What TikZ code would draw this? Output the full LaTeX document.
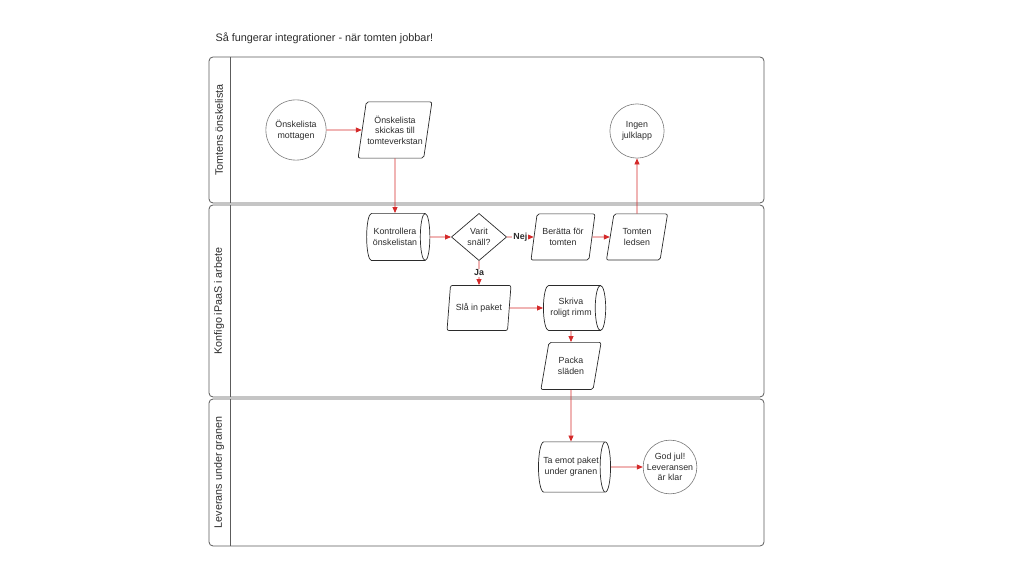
\documentclass[tikz,border=0pt]{standalone}
\usepackage{fontspec}
\setmainfont{Liberation Sans}
\usetikzlibrary{arrows.meta,shapes.geometric,positioning}
\definecolor{xmasred}{HTML}{D42A2A}
\definecolor{lanegray}{HTML}{5C5C5C}
\definecolor{inkgray}{HTML}{2B2B2B}
\definecolor{ringgray}{HTML}{7A7A7A}

\begin{document}
\begin{tikzpicture}[x=1.4cm, y=1.4cm,
  lane/.style={draw=lanegray, line width=0.8pt, rounded corners=4pt},
  lanelabel/.style={rotate=90, font=\fontsize{10.7}{12}\selectfont, text=inkgray},
  event/.style={circle, draw=ringgray, line width=0.6pt, minimum size=56pt,
                inner sep=0pt, align=center, text=inkgray,
                font=\fontsize{8.8}{10.6}\selectfont},
  io/.style={trapezium, trapezium left angle=75, trapezium right angle=105,
             trapezium stretches=true, draw=inkgray, line width=0.7pt,
             rounded corners=2pt, minimum width=64pt, minimum height=46pt,
             inner sep=1pt, align=center, text=inkgray,
             font=\fontsize{8.8}{10.6}\selectfont},
  store/.style={cylinder, aspect=0.5, draw=inkgray, line width=0.7pt,
                minimum height=63pt, minimum width=47pt, inner sep=1pt,
                align=center, text=inkgray, font=\fontsize{8.8}{10.6}\selectfont},
  check/.style={diamond, draw=inkgray, line width=0.7pt, aspect=1.15,
                minimum width=55pt, minimum height=47pt, inner sep=0pt,
                align=center, text=inkgray, font=\fontsize{8.8}{10.6}\selectfont},
  flow/.style={-{Triangle[length=6pt,width=5pt]}, draw=xmasred, line width=0.8pt},
  choice/.style={fill=white, inner sep=1pt, text=inkgray,
                 font=\bfseries\fontsize{8.8}{10.6}\selectfont},
]
  \useasboundingbox (0,0) rectangle (25.6,14.4);

  % Title -------------------------------------------------------------------
  \node[anchor=west, text=inkgray, font=\fontsize{10.8}{12}\selectfont] (title)
    at (5.3,13.45) {Så fungerar integrationer - när tomten jobbar!};

  % Swimlanes ---------------------------------------------------------------
  \draw[lane] (5.225,9.325) rectangle (19.1,12.975);
  \draw[lane] (5.75,9.325) -- (5.75,12.975);
  \node[lanelabel] (lanewish) at (5.475,11.15) {Tomtens önskelista};

  \draw[lane] (5.225,4.475) rectangle (19.1,9.275);
  \draw[lane] (5.75,4.475) -- (5.75,9.275);
  \node[lanelabel] (laneipaas) at (5.475,6.875) {Konfigo iPaaS i arbete};

  \draw[lane] (5.225,0.75) rectangle (19.1,4.425);
  \draw[lane] (5.75,0.75) -- (5.75,4.425);
  \node[lanelabel] (lanetree) at (5.475,2.5875) {Leverans under granen};

  % Tomtens önskelista ------------------------------------------------------
  \node[event, minimum size=60pt] (wish) at (7.4,11.15) {Önskelista\\mottagen};
  \node[io, minimum width=74pt, minimum height=56pt] (send) at (9.875,11.15)
    {Önskelista\\skickas till\\tomteverkstan};
  \node[event, minimum size=54pt] (nogift) at (15.925,11.125) {Ingen\\julklapp};

  % Konfigo iPaaS i arbete --------------------------------------------------
  \node[store] (checklist) at (9.875,8.475) {Kontrollera\\önskelistan};
  \node[check] (nice) at (11.975,8.475) {Varit\\snäll?};
  \node[io] (tell) at (14.075,8.475) {Berätta för\\tomten};
  \node[io, minimum width=61pt] (sad) at (15.925,8.475) {Tomten\\ledsen};
  \node[io, minimum height=45pt] (wrap) at (11.975,6.7) {Slå in paket};
  \node[store, minimum width=45pt, minimum height=62pt] (rhyme) at (14.275,6.7)
    {Skriva\\roligt rimm};
  \node[io, minimum width=60pt, minimum height=47pt] (sleigh) at (14.275,5.25)
    {Packa\\släden};

  % Leverans under granen ---------------------------------------------------
  \node[store, minimum height=71pt, minimum width=50pt] (tree) at (14.275,2.725)
    {Ta emot paket\\under granen};
  \node[event, minimum size=52pt] (done) at (16.75,2.725)
    {God jul!\\Leveransen\\är klar};

  % Flow --------------------------------------------------------------------
  \draw[flow] (wish) -- (send);
  \draw[flow] (send) -- (checklist);
  \draw[flow] (checklist) -- (nice);
  \draw[flow] (nice) -- node[choice] {Nej} (tell);
  \draw[flow] (tell) -- (sad);
  \draw[flow] (sad) -- (nogift);
  \draw[flow] (nice) -- node[choice] {Ja} (wrap);
  \draw[flow] (wrap) -- (rhyme);
  \draw[flow] (rhyme) -- (sleigh);
  \draw[flow] (sleigh) -- (tree);
  \draw[flow] (tree) -- (done);
\end{tikzpicture}
\end{document}
